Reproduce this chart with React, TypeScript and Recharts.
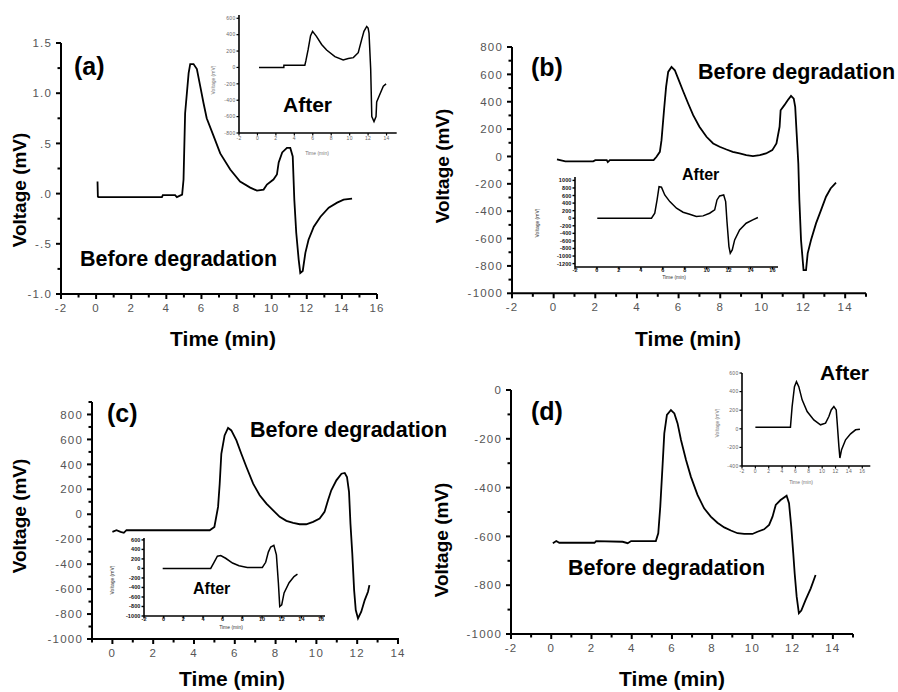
import React from 'react';
import { LineChart, Line, XAxis, YAxis } from 'recharts';

const FONT = '"Liberation Sans", Arial, Helvetica, sans-serif';

// ---------- Panel (a) ----------
const aTime = [0.08, 0.1, 0.15, 1.0, 2.0, 3.0, 3.75, 3.8, 4.5, 4.6, 4.9, 4.98, 5.07, 5.27, 5.36, 5.55, 5.74, 5.93, 6.12, 6.3, 6.7, 7.07, 7.64, 8.2, 8.78, 9.16, 9.54, 9.73, 10.1, 10.3, 10.4, 10.6, 10.87, 11.06, 11.2, 11.29, 11.4, 11.54, 11.63, 11.77, 11.92, 12.1, 12.4, 12.78, 13.25, 13.73, 14.1, 14.58];
const aVoltage = [0.12, -0.03, -0.035, -0.035, -0.035, -0.035, -0.035, -0.015, -0.015, -0.035, -0.01, 0.14, 0.8, 1.2, 1.29, 1.29, 1.24, 1.07, 0.9, 0.75, 0.57, 0.4, 0.24, 0.12, 0.06, 0.03, 0.04, 0.09, 0.14, 0.19, 0.31, 0.41, 0.455, 0.455, 0.37, -0.06, -0.39, -0.66, -0.79, -0.77, -0.59, -0.46, -0.33, -0.23, -0.14, -0.09, -0.06, -0.05];
const aInsetTime = [0.17, 2.86, 2.87, 5.14, 5.25, 5.5, 5.76, 5.98, 6.4, 6.96, 7.5, 8.4, 9.3, 9.85, 10.4, 10.93, 11.3, 11.55, 11.85, 12.0, 12.1, 12.28, 12.4, 12.64, 12.86, 12.93, 13.3, 13.65, 13.95];
const aInsetVoltage = [0, 0, 28, 28, 80, 220, 388, 440, 380, 280, 212, 132, 92, 108, 120, 180, 340, 440, 500, 480, 420, -20, -600, -660, -600, -420, -320, -228, -200];
const aXMajor = [-2, 0, 2, 4, 6, 8, 10, 12, 14, 16];
const aXMinor = [-1, 1, 3, 5, 7, 9, 11, 13, 15];
const aYMajor = [-1, -0.5, 0, 0.5, 1, 1.5];
const aYLabels = ['-1.0', '-.5', '.0', '.5', '1.0', '1.5'];
const aYMinor = [-0.75, -0.25, 0.25, 0.75, 1.25];
const aInsetXMajor = [-2, 0, 2, 4, 6, 8, 10, 12, 14];
const aInsetYMajor = [-800, -600, -400, -200, 0, 200, 400, 600];

// ---------- Panel (b) ----------
const bTime = [0.16, 0.56, 1.9, 2.0, 2.55, 2.6, 2.7, 4.8, 4.94, 5.1, 5.18, 5.3, 5.4, 5.5, 5.66, 5.82, 5.98, 6.2, 6.46, 6.7, 7.0, 7.34, 7.66, 7.97, 8.3, 8.6, 8.93, 9.25, 9.57, 9.9, 10.2, 10.5, 10.7, 10.85, 10.9, 11.08, 11.24, 11.4, 11.53, 11.6, 11.67, 11.75, 11.8, 11.88, 12.0, 12.12, 12.2, 12.36, 12.6, 12.84, 13.08, 13.3, 13.56];
const bVoltage = [-22, -36, -36, -27, -27, -41, -27, -27, -2, 34, 119, 338, 508, 618, 654, 630, 569, 484, 387, 302, 217, 144, 95, 71, 51, 34, 22, 10, 2, 10, 22, 46, 95, 217, 338, 375, 411, 443, 423, 362, 168, -51, -319, -611, -830, -830, -708, -611, -489, -392, -294, -234, -192];
const bInsetTime = [0.03, 4.97, 5.27, 5.48, 5.66, 5.88, 6.18, 6.64, 7.25, 7.85, 8.45, 9.06, 9.67, 10.27, 10.73, 10.94, 11.18, 11.55, 11.73, 11.85, 12.03, 12.15, 12.33, 12.55, 13.0, 13.6, 14.2, 14.67];
const bInsetVoltage = [0, 0, 132, 483, 835, 819, 616, 440, 264, 158, 106, 44, 62, 132, 220, 483, 590, 616, 440, -88, -750, -925, -837, -573, -310, -132, -44, 18];
const bXMajor = [-2, 0, 2, 4, 6, 8, 10, 12, 14];
const bXMinor = [-1, 1, 3, 5, 7, 9, 11, 13, 15];
const bYMajor = [-1000, -800, -600, -400, -200, 0, 200, 400, 600, 800];
const bYMinor = [-900, -700, -500, -300, -100, 100, 300, 500, 700];
const bInsetXMajor = [-2, 0, 2, 4, 6, 8, 10, 12, 14, 16];
const bInsetYMajor = [-1200, -1000, -800, -600, -400, -200, 0, 200, 400, 600, 800, 1000];

// ---------- Panel (c) ----------
const cTime = [0, 0.2, 0.4, 0.56, 0.69, 4.77, 5.0, 5.18, 5.26, 5.34, 5.5, 5.67, 5.83, 6.08, 6.32, 6.57, 6.9, 7.22, 7.55, 7.88, 8.2, 8.53, 8.86, 9.18, 9.5, 9.84, 10.16, 10.4, 10.57, 10.73, 10.98, 11.23, 11.39, 11.5, 11.6, 11.67, 11.76, 11.85, 11.93, 12.04, 12.2, 12.37, 12.53, 12.6];
const cVoltage = [-141, -128, -141, -149, -128, -128, -101, 59, 245, 485, 632, 693, 672, 592, 485, 379, 245, 152, 85, 32, -21, -53, -69, -80, -80, -61, -35, 19, 112, 192, 272, 325, 331, 299, 179, -75, -315, -608, -768, -835, -781, -688, -621, -568];
const cInsetTime = [-0.1, 4.78, 5.12, 5.46, 5.8, 6.3, 7.0, 7.66, 8.5, 10.03, 10.37, 10.64, 10.88, 11.2, 11.46, 11.66, 11.8, 12.0, 12.24, 12.75, 13.25, 13.6];
const cInsetVoltage = [0, 0, 129, 257, 271, 214, 114, 57, 21, 21, 129, 343, 450, 486, 286, -300, -800, -764, -514, -300, -171, -121];
const cXMajor = [0, 2, 4, 6, 8, 10, 12, 14];
const cXMinor = [-1, 1, 3, 5, 7, 9, 11, 13];
const cYMajor = [-1000, -800, -600, -400, -200, 0, 200, 400, 600, 800];
const cYMinor = [-900, -700, -500, -300, -100, 100, 300, 500, 700, 900];
const cInsetXMajor = [-2, 0, 2, 4, 6, 8, 10, 12, 14, 16];
const cInsetYMajor = [-1000, -800, -600, -400, -200, 0, 200, 400, 600];

// ---------- Panel (d) ----------
const dTime = [0.08, 0.25, 0.4, 2.15, 2.23, 3.55, 3.8, 3.97, 5.2, 5.32, 5.42, 5.54, 5.62, 5.75, 5.95, 6.12, 6.28, 6.45, 6.7, 6.94, 7.27, 7.6, 7.93, 8.26, 8.6, 8.93, 9.26, 9.59, 10.0, 10.25, 10.58, 10.83, 11.0, 11.16, 11.4, 11.7, 11.82, 11.93, 12.03, 12.1, 12.2, 12.31, 12.43, 12.64, 12.9, 13.14];
const dVoltage = [-628, -619, -626, -626, -619, -622, -628, -619, -619, -587, -478, -300, -178, -102, -82, -96, -137, -205, -287, -355, -430, -485, -519, -544, -563, -576, -587, -590, -590, -581, -571, -553, -519, -471, -451, -433, -464, -560, -669, -751, -847, -915, -904, -861, -813, -758];
const dInsetTime = [0, 5.25, 5.5, 5.85, 6.15, 6.5, 7.0, 7.75, 8.75, 9.75, 10.5, 11.0, 11.35, 11.75, 12.1, 12.25, 12.5, 12.65, 12.9, 13.5, 14.25, 15.0, 15.65];
const dInsetVoltage = [18, 18, 239, 453, 507, 453, 311, 186, 96, 43, 61, 132, 203, 239, 203, 61, -189, -314, -225, -118, -54, -11, -4];
const dXMajor = [-2, 0, 2, 4, 6, 8, 10, 12, 14];
const dXMinor = [-1, 1, 3, 5, 7, 9, 11, 13, 15];
const dYMajor = [-1000, -800, -600, -400, -200, 0];
const dYMinor = [-900, -700, -500, -300, -100];
const dInsetXMajor = [-2, 0, 2, 4, 6, 8, 10, 12, 14, 16];
const dInsetYMajor = [-400, -200, 0, 200, 400, 600];

type Style = {
  axisW: number; lineW: number; major: number; minor: number; tickW: number;
  font: number; color: string; weight: number; spacing: number; yGap: number; xDy: number;
};
const MAIN: Style = { axisW: 2, lineW: 1.8, major: 5, minor: 3.5, tickW: 2, font: 11.5, color: '#555', weight: 400, spacing: 1.2, yGap: 9, xDy: 18 };
const INSET_LIGHT: Style = { axisW: 1.6, lineW: 1.5, major: 2.5, minor: 0, tickW: 1.2, font: 5, color: '#666', weight: 400, spacing: 0.3, yGap: 3.5, xDy: 7.5 };
const INSET_DARK: Style = { axisW: 1.6, lineW: 1.5, major: 2.5, minor: 0, tickW: 1.4, font: 5.5, color: '#111', weight: 700, spacing: 0.1, yGap: 3.5, xDy: 5 };

type Box = { left: number; top: number; right: number; bottom: number };

type PanelProps = {
  box: Box; xDomain: [number, number]; yDomain: [number, number];
  xMajor: number[]; xMinor: number[]; yMajor: number[]; yMinor: number[];
  yLabels?: string[]; time: number[]; volt: number[]; st: Style;
};

const idx = (arr: number[], v: number) => arr.findIndex((m) => Math.abs(m - v) < 1e-9);

function Panel({ box, xDomain, yDomain, xMajor, xMinor, yMajor, yMinor, yLabels, time, volt, st }: PanelProps) {
  const YW = 60, XH = 30, MT = 10, MR = 10;
  const w = box.right - box.left;
  const h = box.bottom - box.top;
  const data = time.map((t, i) => ({ t, v: volt[i] }));
  const xTicks = [...xMajor, ...xMinor].sort((a, b) => a - b);
  const yTicks = [...yMajor, ...yMinor].sort((a, b) => a - b);
  const textProps = {
    fontFamily: FONT, fontSize: st.font, fill: st.color, fontWeight: st.weight, letterSpacing: st.spacing,
  };
  const xTick = (p: any) => {
    const i = idx(xMajor, p.payload.value);
    const len = i >= 0 ? st.major : st.minor;
    return (
      <g>
        {len > 0 && <rect x={p.x - st.tickW / 2} y={p.y} width={st.tickW} height={len} fill="#000" />}
        {i >= 0 && (
          <text x={p.x} y={p.y + st.xDy} textAnchor="middle" {...textProps}>{String(xMajor[i])}</text>
        )}
      </g>
    );
  };
  const yTick = (p: any) => {
    const i = idx(yMajor, p.payload.value);
    const len = i >= 0 ? st.major : st.minor;
    return (
      <g>
        {len > 0 && <rect x={p.x - len} y={p.y - st.tickW / 2} width={len} height={st.tickW} fill="#000" />}
        {i >= 0 && (
          <text x={p.x - st.yGap} y={p.y + st.font * 0.36} textAnchor="end" {...textProps}>
            {yLabels ? yLabels[i] : String(yMajor[i])}
          </text>
        )}
      </g>
    );
  };
  return (
    <div style={{ position: 'absolute', left: box.left - YW, top: box.top - MT }}>
      <LineChart width={YW + w + MR} height={MT + h + XH} data={data} margin={{ top: MT, right: MR, bottom: 0, left: 0 }}>
        <XAxis
          dataKey="t" type="number" domain={xDomain} allowDataOverflow ticks={xTicks} interval={0}
          tickSize={0} tickMargin={0} tickLine={false} height={XH}
          axisLine={{ stroke: '#000', strokeWidth: st.axisW }} tick={xTick}
        />
        <YAxis
          type="number" domain={yDomain} allowDataOverflow ticks={yTicks} interval={0}
          tickSize={0} tickMargin={0} tickLine={false} width={YW}
          axisLine={{ stroke: '#000', strokeWidth: st.axisW }} tick={yTick}
        />
        <Line dataKey="v" type="linear" stroke="#000" strokeWidth={st.lineW} dot={false} isAnimationActive={false} />
      </LineChart>
    </div>
  );
}

const T = (props: any) => <text fontFamily={FONT} fontWeight={700} fill="#000" {...props} />;
const Small = (props: any) => <text fontFamily={FONT} fontSize={5} fill="#777" {...props} />;

export default function App() {
  return (
    <div style={{ position: 'absolute', left: 0, top: 0, width: 898, height: 692, background: '#fff', overflow: 'hidden' }}>
      {/* (a) */}
      <Panel box={{ left: 61, top: 43, right: 377, bottom: 294 }} xDomain={[-2, 16]} yDomain={[-1, 1.5]}
        xMajor={aXMajor} xMinor={aXMinor} yMajor={aYMajor} yMinor={aYMinor} yLabels={aYLabels}
        time={aTime} volt={aVoltage} st={MAIN} />
      <Panel box={{ left: 239.3, top: 15, right: 397, bottom: 133 }} xDomain={[-2, 15.1]} yDomain={[-800, 640]}
        xMajor={aInsetXMajor} xMinor={[]} yMajor={aInsetYMajor} yMinor={[]}
        time={aInsetTime} volt={aInsetVoltage} st={INSET_LIGHT} />
      {/* (b) */}
      <Panel box={{ left: 512, top: 46.7, right: 866, bottom: 293 }} xDomain={[-2, 15]} yDomain={[-1000, 800]}
        xMajor={bXMajor} xMinor={bXMinor} yMajor={bYMajor} yMinor={bYMinor}
        time={bTime} volt={bVoltage} st={MAIN} />
      <Panel box={{ left: 575, top: 177, right: 778, bottom: 267 }} xDomain={[-2, 16.5]} yDomain={[-1290, 1090]}
        xMajor={bInsetXMajor} xMinor={[]} yMajor={bInsetYMajor} yMinor={[]}
        time={bInsetTime} volt={bInsetVoltage} st={INSET_DARK} />
      {/* (c) */}
      <Panel box={{ left: 92, top: 402, right: 399, bottom: 639 }} xDomain={[-1, 14.05]} yDomain={[-1000, 900]}
        xMajor={cXMajor} xMinor={cXMinor} yMajor={cYMajor} yMinor={cYMinor}
        time={cTime} volt={cVoltage} st={MAIN} />
      <Panel box={{ left: 144, top: 538, right: 325, bottom: 616 }} xDomain={[-2, 16.4]} yDomain={[-1000, 640]}
        xMajor={cInsetXMajor} xMinor={[]} yMajor={cInsetYMajor} yMinor={[]}
        time={cInsetTime} volt={cInsetVoltage} st={INSET_DARK} />
      {/* (d) */}
      <Panel box={{ left: 511, top: 390, right: 853, bottom: 634 }} xDomain={[-2, 15]} yDomain={[-1000, 0]}
        xMajor={dXMajor} xMinor={dXMinor} yMajor={dYMajor} yMinor={dYMinor}
        time={dTime} volt={dVoltage} st={MAIN} />
      <Panel box={{ left: 741.7, top: 373, right: 870, bottom: 466 }} xDomain={[-2, 17.2]} yDomain={[-400, 600]}
        xMajor={dInsetXMajor} xMinor={[]} yMajor={dInsetYMajor} yMinor={[]}
        time={dInsetTime} volt={dInsetVoltage} st={INSET_LIGHT} />

      <svg width={898} height={692} style={{ position: 'absolute', left: 0, top: 0, pointerEvents: 'none' }}>
        {/* panel letters */}
        <T x={74} y={75} fontSize={25}>(a)</T>
        <T x={531} y={76} fontSize={25}>(b)</T>
        <T x={107} y={422} fontSize={25}>(c)</T>
        <T x={531} y={420} fontSize={25}>(d)</T>
        {/* annotations */}
        <T x={80} y={266} fontSize={21.5}>Before degradation</T>
        <T x={283} y={112} fontSize={21}>After</T>
        <T x={698} y={79} fontSize={21.5}>Before degradation</T>
        <T x={682} y={180} fontSize={16}>After</T>
        <T x={250} y={437} fontSize={21.5}>Before degradation</T>
        <T x={193} y={594} fontSize={16}>After</T>
        <T x={568} y={575} fontSize={21.5}>Before degradation</T>
        <T x={820} y={380} fontSize={21}>After</T>
        {/* axis titles */}
        <T x={223} y={346} fontSize={21} textAnchor="middle">Time (min)</T>
        <T x={688} y={346} fontSize={21} textAnchor="middle">Time (min)</T>
        <T x={232} y={686} fontSize={21} textAnchor="middle">Time (min)</T>
        <T x={672} y={686} fontSize={21} textAnchor="middle">Time (min)</T>
        <T x={19} y={190} fontSize={19} textAnchor="middle" dominantBaseline="central" transform="rotate(-90 19 190)">Voltage (mV)</T>
        <T x={442} y={166} fontSize={19} textAnchor="middle" dominantBaseline="central" transform="rotate(-90 442 166)">Voltage (mV)</T>
        <T x={19} y={516} fontSize={19} textAnchor="middle" dominantBaseline="central" transform="rotate(-90 19 516)">Voltage (mV)</T>
        <T x={441} y={540} fontSize={19} textAnchor="middle" dominantBaseline="central" transform="rotate(-90 441 540)">Voltage (mV)</T>
        {/* inset axis titles */}
        <Small x={317} y={155} textAnchor="middle">Time (min)</Small>
        <Small x={213} y={80} textAnchor="middle" dominantBaseline="central" transform="rotate(-90 213 80)">Voltage (mV)</Small>
        <Small x={674} y={279} textAnchor="middle" fill="#333">Time (min)</Small>
        <Small x={537} y={223} textAnchor="middle" dominantBaseline="central" fill="#333" transform="rotate(-90 537 223)">Voltage (mV)</Small>
        <Small x={231} y={629} textAnchor="middle" fill="#333">Time (min)</Small>
        <Small x={112} y={580} textAnchor="middle" dominantBaseline="central" fill="#333" transform="rotate(-90 112 580)">Voltage (mV)</Small>
        <Small x={801} y={484} textAnchor="middle">Time (min)</Small>
        <Small x={717} y={423} textAnchor="middle" dominantBaseline="central" transform="rotate(-90 717 423)">Voltage (mV)</Small>
      </svg>
    </div>
  );
}
